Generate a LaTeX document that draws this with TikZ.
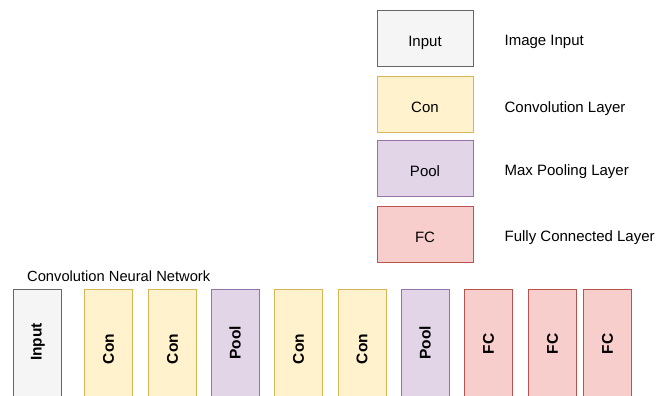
\documentclass[tikz,border=0pt]{standalone}
\usepackage{fontspec}
\setmainfont{Liberation Sans}
\usetikzlibrary{positioning}
\definecolor{inputfill}{HTML}{F5F5F5}
\definecolor{inputdraw}{HTML}{666666}
\definecolor{confill}{HTML}{FFF2CC}
\definecolor{condraw}{HTML}{D6B656}
\definecolor{poolfill}{HTML}{E1D5E7}
\definecolor{pooldraw}{HTML}{9673A6}
\definecolor{fcfill}{HTML}{F8CECC}
\definecolor{fcdraw}{HTML}{B85450}

\begin{document}
\begin{tikzpicture}[x=1pt, y=-1pt,
    legbox/.style={draw, line width=0.8pt, minimum width=96pt, minimum height=56pt, inner sep=0pt, text height=19.5pt, text depth=3pt, font=\fontsize{15}{17}\selectfont},
    legtext/.style={anchor=west, inner sep=0pt, font=\fontsize{15}{17}\selectfont},
    layer/.style={draw, line width=0.8pt, minimum width=48pt, minimum height=130pt, inner sep=0pt},
    vtext/.style={rotate=90, inner sep=0pt, font=\bfseries\fontsize{15.5}{17}\selectfont},
    inlayer/.style={fill=inputfill, draw=inputdraw},
    conlayer/.style={fill=confill, draw=condraw},
    poollayer/.style={fill=poolfill, draw=pooldraw},
    fclayer/.style={fill=fcfill, draw=fcdraw},
    ]
    \useasboundingbox (0,0) rectangle (669,396);
    \clip (0,0) rectangle (669,396);

    % legend (top right)
    \node[legbox, inlayer] (legin) at (425,38) {Input};
    \node[legbox, conlayer] (legcon) at (425,104.5) {Con};
    \node[legbox, poollayer] (legpool) at (425,168.5) {Pool};
    \node[legbox, fclayer] (legfc) at (425,234) {FC};
    \node[legtext, right=31pt of legin, yshift=-4pt] (txtin) {Image Input};
    \node[legtext, right=31pt of legcon, yshift=-4pt] (txtcon) {Convolution Layer};
    \node[legtext, right=31pt of legpool, yshift=-3pt] (txtpool) {Max Pooling Layer};
    \node[legtext, right=31pt of legfc, yshift=-4pt] (txtfc) {Fully Connected Layer};

    % network title
    \node[legtext, font=\fontsize{14.7}{17}\selectfont] (title) at (27,276) {Convolution Neural Network};

    % network layers (bottom)
    \node[layer, inlayer] (l1) at (37,354) {};
    \node[layer, conlayer] (l2) at (108.5,354) {};
    \node[layer, conlayer] (l3) at (172.5,354) {};
    \node[layer, poollayer] (l4) at (235,354) {};
    \node[layer, conlayer] (l5) at (298.5,354) {};
    \node[layer, conlayer] (l6) at (362,354) {};
    \node[layer, poollayer] (l7) at (425,354) {};
    \node[layer, fclayer] (l8) at (488.5,354) {};
    \node[layer, fclayer] (l9) at (552.5,354) {};
    \node[layer, fclayer] (l10) at (607.5,354) {};

    % rotated labels
    \node[vtext] (t1) at (38,342) {Input};
    \node[vtext] (t2) at (108.5,349) {Con};
    \node[vtext] (t3) at (172.5,349) {Con};
    \node[vtext] (t4) at (235,343) {Pool};
    \node[vtext] (t5) at (298.5,349) {Con};
    \node[vtext] (t6) at (362,349) {Con};
    \node[vtext] (t7) at (425,343) {Pool};
    \node[vtext] (t8) at (488.5,344) {FC};
    \node[vtext] (t9) at (552.5,344) {FC};
    \node[vtext] (t10) at (607.5,344) {FC};
\end{tikzpicture}
\end{document}
